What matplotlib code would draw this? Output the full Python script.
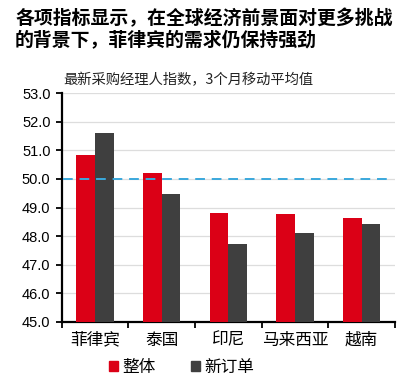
import matplotlib
matplotlib.use("Agg")
import matplotlib.pyplot as plt
import numpy as np
from matplotlib.patches import Patch
from matplotlib.ticker import FormatStrFormatter

# Données
pays = ["菲律宾", "泰国", "印尼", "马来西亚", "越南"]
global_pmi = [50.85, 50.22, 48.81, 48.76, 48.65]
new_orders = [51.60, 49.47, 47.72, 48.10, 48.44]
seuil = 50.0
yticks = [45, 46, 47, 48, 49, 50, 51, 52, 53]

rouge = "#DB0016"
gris = "#3F3F3F"
cjk = ["Noto Sans CJK SC", "DejaVu Sans"]
num = ["Liberation Sans", "Noto Sans CJK SC"]

fig = plt.figure(figsize=(4.08, 3.84), dpi=100)
ax = fig.add_axes([0.151, 0.1615, 0.817, 0.596])

x = np.arange(len(pays))
w = 0.28
ax.bar(x - w / 2, global_pmi, w, color=rouge, zorder=3)
ax.bar(x + w / 2, new_orders, w, color=gris, zorder=3)
ax.axhline(seuil, xmin=0.005, xmax=0.985, color="#3AA8DC", lw=1.4,
           dashes=(5, 3.5), zorder=4)

ax.set_xlim(-0.5, len(pays) - 0.5)
ax.set_ylim(45, 53)
ax.set_yticks(yticks)
ax.yaxis.set_major_formatter(FormatStrFormatter("%.1f"))
ax.grid(axis="y", color="#DDDDDD", lw=0.9, zorder=0)

ax.set_xticks(x)
ax.set_xticklabels(pays, family=cjk, fontsize=12)
ax.set_xticks(np.arange(-0.5, len(pays)), minor=True)
ax.tick_params(axis="x", which="major", length=0, pad=7)
ax.tick_params(axis="x", which="minor", length=4, width=1.3, direction="out")
ax.tick_params(axis="y", length=4, width=1.3, pad=4, labelsize=10.5)
for lab in ax.get_yticklabels():
    lab.set_family(num)

for s in ["top", "right"]:
    ax.spines[s].set_visible(False)
for s in ["left", "bottom"]:
    ax.spines[s].set_linewidth(1.6)

# Titre et sous-titre
fig.text(0.037, 0.978, "各项指标显示，在全球经济前景面对更多挑战\n的背景下，菲律宾的需求仍保持强劲",
         family=cjk, fontsize=13.6, fontweight="bold", va="top", ha="left",
         linespacing=1.22)
fig.text(0.155, 0.792, "最新采购经理人指数，3个月移动平均值", family=cjk,
         fontsize=10.3, va="center", ha="left", color="#222222")

handles = [Patch(color=rouge, label="整体"), Patch(color=gris, label="新订单")]
leg = fig.legend(handles=handles, loc="center", bbox_to_anchor=(0.445, 0.044),
                 ncol=2, frameon=False, handlelength=0.55, handleheight=0.55,
                 handletextpad=0.25, columnspacing=2.1,
                 prop={"family": cjk, "size": 12})

fig.savefig("out.png", dpi=100)
